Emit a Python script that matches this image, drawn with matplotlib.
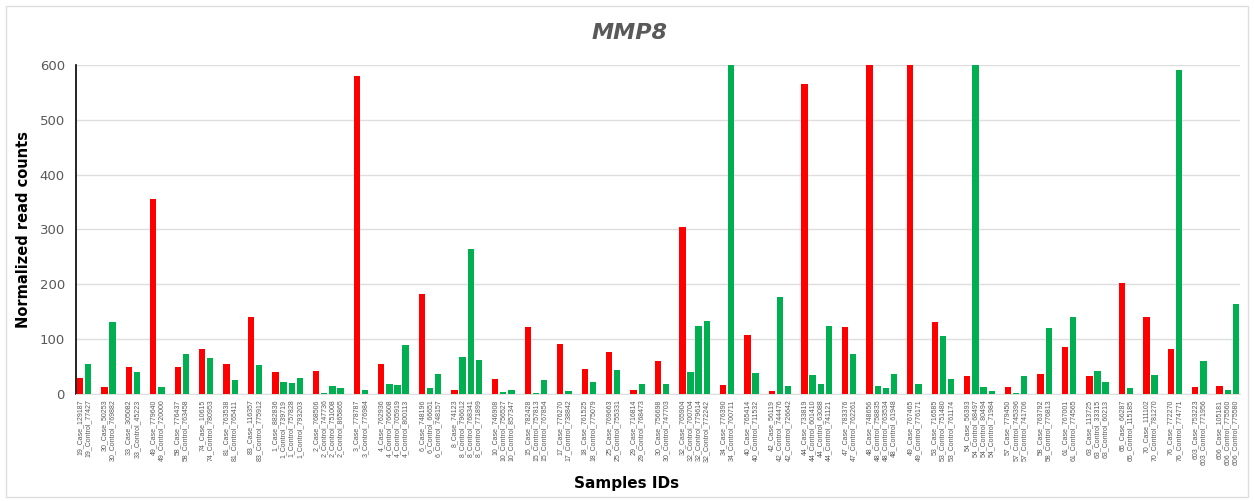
import matplotlib.pyplot as plt
from matplotlib.patches import Rectangle

# sample labels in plotting order; a new group starts when the patient prefix changes
sample_ids = [
    "19_Case_129187", "19_Control_77427",
    "30_Case_50253", "30_Control_769882",
    "33_Case_305082", "33_Control_45223",
    "49_Case_779640", "49_Control_720000",
    "58_Case_776437", "58_Control_763458",
    "74_Case_10615", "74_Control_780953",
    "81_Case_763538", "81_Control_765411",
    "83_Case_116357", "83_Control_775912",
    "1_Case_882836", "1_Control_739719", "1_Control_757828", "1_Control_793203",
    "2_Case_768506", "2_Control_747736", "2_Control_751008", "2_Control_865865",
    "3_Case_778787", "3_Control_776984",
    "4_Case_762936", "4_Control_766608", "4_Control_705919", "4_Control_800113",
    "6_Case_748196", "6_Control_66651", "6_Control_748157",
    "8_Case_74123", "8_Control_796612", "8_Control_768341", "8_Control_771899",
    "10_Case_746908", "10_Control_756527", "10_Control_857347",
    "15_Case_782428", "15_Control_757813", "15_Control_767854",
    "17_Case_776270", "17_Control_738842",
    "18_Case_761525", "18_Control_775079",
    "25_Case_769663", "25_Control_755331",
    "29_Case_716814", "29_Control_768473",
    "30_Case_756698", "30_Control_747703",
    "32_Case_765904", "32_Control_700704", "32_Control_779614", "32_Control_772242",
    "34_Case_776390", "34_Control_700711",
    "40_Case_765414", "40_Control_711532",
    "42_Case_56119", "42_Control_744476", "42_Control_726642",
    "44_Case_733819", "44_Control_601410", "44_Control_63088", "44_Control_741121",
    "47_Case_783376", "47_Control_762261",
    "48_Case_748656", "48_Control_758835", "48_Control_763534", "48_Control_61948",
    "49_Case_767465", "49_Control_776171",
    "53_Case_716585", "53_Control_751480", "53_Control_761174",
    "54_Case_56393", "54_Control_68497", "54_Control_80494", "54_Control_71984",
    "57_Case_779450", "57_Control_745396", "57_Control_741706",
    "58_Case_763792", "58_Control_776813",
    "61_Case_767001", "61_Control_774565",
    "63_Case_113725", "63_Control_33315", "63_Control_60213",
    "65_Case_66287", "65_Control_115185",
    "70_Case_111102", "70_Control_781270",
    "76_Case_772270", "76_Control_774771",
    "603_Case_753223", "603_Control_771956",
    "606_Case_105181", "606_Control_775560", "606_Control_775580",
]

read_counts = [
    29, 55,
    13, 131,
    49, 40,
    355, 13,
    49, 73,
    82, 65,
    55, 25,
    140, 53,
    40, 22, 20, 29,
    42, 1, 14, 11,
    580, 8,
    55, 18, 17, 90,
    182, 11, 36,
    8, 68, 265, 62,
    27, 3, 8,
    123, 2, 25,
    92, 6,
    46, 21,
    77, 43,
    8, 18,
    60, 19,
    305, 41, 124, 133,
    16, 600,
    107, 38,
    6, 176, 15,
    565, 35, 18, 124,
    122, 73,
    600, 15, 11, 37,
    600, 18,
    131, 105, 28,
    33, 600, 13, 5,
    12, 2, 33,
    37, 121,
    85, 140,
    33, 42, 22,
    203, 11,
    140, 35,
    82, 590,
    13, 61,
    15, 8, 164,
]

y_ticks = [0, 100, 200, 300, 400, 500, 600]

CASE_COLOR = "#FF0000"
CONTROL_COLOR = "#00B050"
TEXT_GRAY = "#595959"
GRID_GRAY = "#DEDEDE"

# slot positions: one empty slot between patient groups
positions = []
slot = 0
prev_prefix = None
for sid in sample_ids:
    prefix = sid.split("_")[0]
    if prev_prefix is not None and prefix != prev_prefix:
        slot += 1
    positions.append(slot)
    slot += 1
    prev_prefix = prefix
colors = [CASE_COLOR if "_Case_" in sid else CONTROL_COLOR for sid in sample_ids]

fig = plt.figure(figsize=(12.54, 5.01), dpi=100)
fig.patches.append(Rectangle((0.005, 0.008), 0.99, 0.98, transform=fig.transFigure,
                             fill=False, edgecolor=GRID_GRAY, linewidth=1.0))

ax = fig.add_axes([0.0606, 0.2136, 0.9282, 0.6567])
ax.bar(positions, read_counts, width=0.78, color=colors, zorder=3)

ax.set_xlim(-0.5, positions[-1] + 0.5)
ax.set_ylim(0, 600)
ax.set_yticks(y_ticks)
ax.yaxis.grid(True, color=GRID_GRAY, linewidth=1.0, zorder=0)
ax.tick_params(axis="y", length=0, labelsize=9.5, labelcolor=TEXT_GRAY, pad=8)

ax.set_xticks(positions)
ax.set_xticklabels(sample_ids, rotation=90, fontsize=5, color=TEXT_GRAY,
                   family="Liberation Sans")
ax.tick_params(axis="x", length=0, pad=4)

for side in ["top", "right"]:
    ax.spines[side].set_visible(False)
ax.spines["bottom"].set_color(GRID_GRAY)
ax.spines["left"].set_color("black")
ax.spines["left"].set_linewidth(1.2)

ax.set_ylabel("Normalized read counts", fontsize=10.5, fontweight="bold", labelpad=6)
fig.text(0.5, 0.035, "Samples IDs", ha="center", va="center", fontsize=11, fontweight="bold")
fig.text(0.502, 0.934, "MMP8", ha="center", va="center", fontsize=16,
         fontweight="bold", fontstyle="italic", color=TEXT_GRAY)

fig.savefig("out.png", dpi=100)
